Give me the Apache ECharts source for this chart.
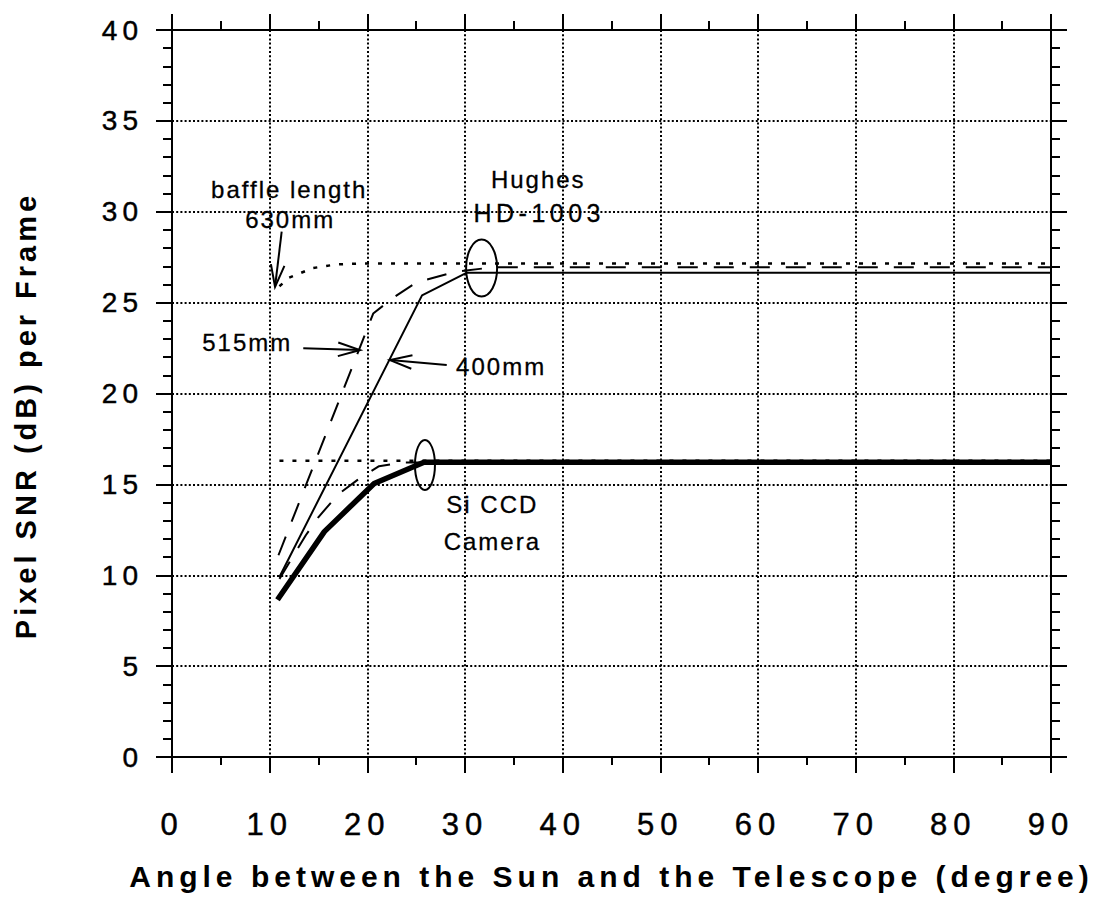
<!DOCTYPE html>
<html><head><meta charset="utf-8">
<script src="https://cdn.jsdelivr.net/npm/echarts@6/dist/echarts.min.js"></script>
<style>
html,body{margin:0;padding:0;background:#fff;}
#c{width:1112px;height:904px;}
#c text[style*="28px"]{letter-spacing:5px;}
#c text[style*="31px"]{letter-spacing:6px;}
#c text[style*="30px"]{letter-spacing:5px;}
#c text[style*="29px"]{letter-spacing:4px;}
#c text[style*="24px"]{letter-spacing:2px;}
#c text[style*="25px"]{letter-spacing:4.5px;}
</style></head><body><div id="c"></div>
<script>
// Tick labels
const xTickLabels = ['0','10','20','30','40','50','60','70','80','90'];
const yTickLabels = ['0','5','10','15','20','25','30','35','40'];
const xTitle = 'Angle between the Sun and the Telescope (degree)';
const yTitle = 'Pixel SNR (dB) per Frame';

// Hughes HD-1003 curves (baffle length 630 / 515 / 400 mm)
const hughes630X = [11, 12, 14.4, 16.8, 19.2, 90];
const hughes630Y = [25.9, 26.37, 26.9, 27.1, 27.15, 27.15];
const hughes515X = [10.9, 20.6, 22.6, 25, 29, 33, 90];
const hughes515Y = [11.1, 24.4, 25.25, 26.1, 26.7, 26.95, 26.95];
const hughes400X = [11, 25.6, 30.2, 90];
const hughes400Y = [9.9, 25.4, 26.65, 26.65];

// Si CCD Camera curves (630 / 515 / 400 mm)
const siccd630X = [11, 26, 90];
const siccd630Y = [16.3, 16.3, 16.3];
const siccd515X = [11, 13.7, 15, 17, 19, 21.2, 23.5, 90];
const siccd515Y = [9.8, 12.2, 13.2, 14.45, 15.25, 16.0, 16.2, 16.25];
const siccd400X = [10.8, 15.6, 20.7, 25.8, 90];
const siccd400Y = [8.65, 12.4, 15.05, 16.22, 16.22];

// Annotations (data coordinates)
const annoText = ['baffle length', '630mm', '515mm', '400mm', 'Hughes', 'HD-1003', 'Si CCD', 'Camera'];
const annoX = [12.0, 12.1, 7.7, 33.7, 37.5, 37.6, 32.8, 32.8];
const annoY = [31.25, 29.55, 22.78, 21.46, 31.8, 29.93, 13.92, 11.88];
const arrowFromX = [11.23, 13.44, 28.13];
const arrowFromY = [28.9, 22.49, 21.57];
const arrowToX = [10.55, 19.25, 22.32];
const arrowToY = [25.87, 22.39, 21.84];
const ellipseX = [31.7, 25.9];
const ellipseY = [26.9, 16.07];

const zip = (xs, ys) => xs.map((x, i) => [x, ys[i]]);
const FONT = 'Liberation Sans';
const BLACK = '#000';

function lineSeries(name, xs, ys, width, type) {
  return {
    name, type: 'line', xAxisIndex: 0, yAxisIndex: 0,
    data: zip(xs, ys), symbol: 'none', smooth: false, z: 5,
    lineStyle: { color: BLACK, width: width, type: type, cap: 'butt', join: 'round' }
  };
}

const axisCommon = {
  axisLine: { show: true, onZero: false, lineStyle: { color: BLACK, width: 2 } },
  axisTick: { show: true, inside: false, length: 16, lineStyle: { color: BLACK, width: 2 } }
};
const gridDots = { color: BLACK, width: 2, type: [2, 2.2] };

const chart = echarts.init(document.getElementById('c'), null, { renderer: 'svg', width: 1112, height: 904 });
chart.setOption({
  animation: false,
  backgroundColor: '#fff',
  grid: { left: 172, right: 61, top: 30, bottom: 147, containLabel: false, outerBoundsMode: 'none' },
  xAxis: [
    Object.assign({
      type: 'value', min: 0, max: 90, interval: 10, position: 'bottom',
      minorTick: { show: true, splitNumber: 2, length: 8, lineStyle: { color: BLACK, width: 2 } },
      splitLine: { show: true, lineStyle: gridDots },
      axisLabel: { show: true, margin: 52, color: BLACK, fontFamily: FONT, fontSize: 31,
        textBorderColor: BLACK, textBorderWidth: 0.45,
        formatter: v => xTickLabels[Math.round(v / 10)] },
      name: xTitle, nameLocation: 'middle', nameGap: 104,
      nameTextStyle: { color: BLACK, fontFamily: FONT, fontWeight: 'bold', fontSize: 30 }
    }, axisCommon),
    Object.assign({
      type: 'value', min: 0, max: 90, interval: 10, position: 'top',
      minorTick: { show: true, splitNumber: 2, length: 9, lineStyle: { color: BLACK, width: 2 } },
      splitLine: { show: false }, axisLabel: { show: false }
    }, axisCommon)
  ],
  yAxis: [
    Object.assign({
      type: 'value', min: 0, max: 40, interval: 5, position: 'left',
      minorTick: { show: true, splitNumber: 5, length: 9, lineStyle: { color: BLACK, width: 2 } },
      splitLine: { show: true, lineStyle: gridDots },
      axisLabel: { show: true, margin: 29, color: BLACK, fontFamily: FONT, fontSize: 28,
        textBorderColor: BLACK, textBorderWidth: 0.45,
        formatter: v => yTickLabels[Math.round(v / 5)] },
      name: yTitle, nameLocation: 'middle', nameGap: 132, nameRotate: 90,
      nameTextStyle: { color: BLACK, fontFamily: FONT, fontWeight: 'bold', fontSize: 29, padding: [0, 44, 0, 0] }
    }, axisCommon),
    Object.assign({
      type: 'value', min: 0, max: 40, interval: 5, position: 'right',
      minorTick: { show: true, splitNumber: 5, length: 9, lineStyle: { color: BLACK, width: 2 } },
      splitLine: { show: false }, axisLabel: { show: false }
    }, axisCommon)
  ],
  series: [
    lineSeries('Hughes 630mm', hughes630X, hughes630Y, 2.5, [4, 9]),
    lineSeries('Hughes 515mm', hughes515X, hughes515Y, 2, [20, 16]),
    lineSeries('Hughes 400mm', hughes400X, hughes400Y, 2, 'solid'),
    lineSeries('Si CCD 630mm', siccd630X, siccd630Y, 2.5, [4, 9]),
    lineSeries('Si CCD 515mm', siccd515X, siccd515Y, 2, [20, 16]),
    lineSeries('Si CCD 400mm', siccd400X, siccd400Y, 5.5, 'solid')
  ]
});

// Annotations placed through the chart's own scales
const px = (x, y) => chart.convertToPixel({ gridIndex: 0 }, [x, y]);
const graphics = [];
annoText.forEach((t, i) => {
  const p = px(annoX[i], annoY[i]);
  graphics.push({
    type: 'text', x: p[0], y: p[1], z: 20,
    style: { text: t, fill: BLACK, stroke: BLACK, lineWidth: 0.3, fontFamily: FONT,
      fontSize: t === 'HD-1003' ? 25 : 24, align: 'center', verticalAlign: 'middle' }
  });
});
arrowFromX.forEach((fx, i) => {
  const a = px(fx, arrowFromY[i]);
  const b = px(arrowToX[i], arrowToY[i]);
  const ang = Math.atan2(a[1] - b[1], a[0] - b[0]);
  const L = 23, h = 0.3;
  const h1 = [b[0] + L * Math.cos(ang + h), b[1] + L * Math.sin(ang + h)];
  const h2 = [b[0] + L * Math.cos(ang - h), b[1] + L * Math.sin(ang - h)];
  graphics.push({ type: 'polyline', z: 20, shape: { points: [a, b] }, style: { stroke: BLACK, lineWidth: 2, fill: null } });
  graphics.push({ type: 'polyline', z: 20, shape: { points: [h1, b, h2] }, style: { stroke: BLACK, lineWidth: 2, fill: null } });
});
const eR = [[15.5, 28.5], [10, 25]];
ellipseX.forEach((ex, i) => {
  const c = px(ex, ellipseY[i]);
  graphics.push({ type: 'ellipse', z: 20, shape: { cx: c[0], cy: c[1], rx: eR[i][0], ry: eR[i][1] },
    style: { stroke: BLACK, lineWidth: 2, fill: null } });
});
chart.setOption({ graphic: graphics });
</script></body></html>
